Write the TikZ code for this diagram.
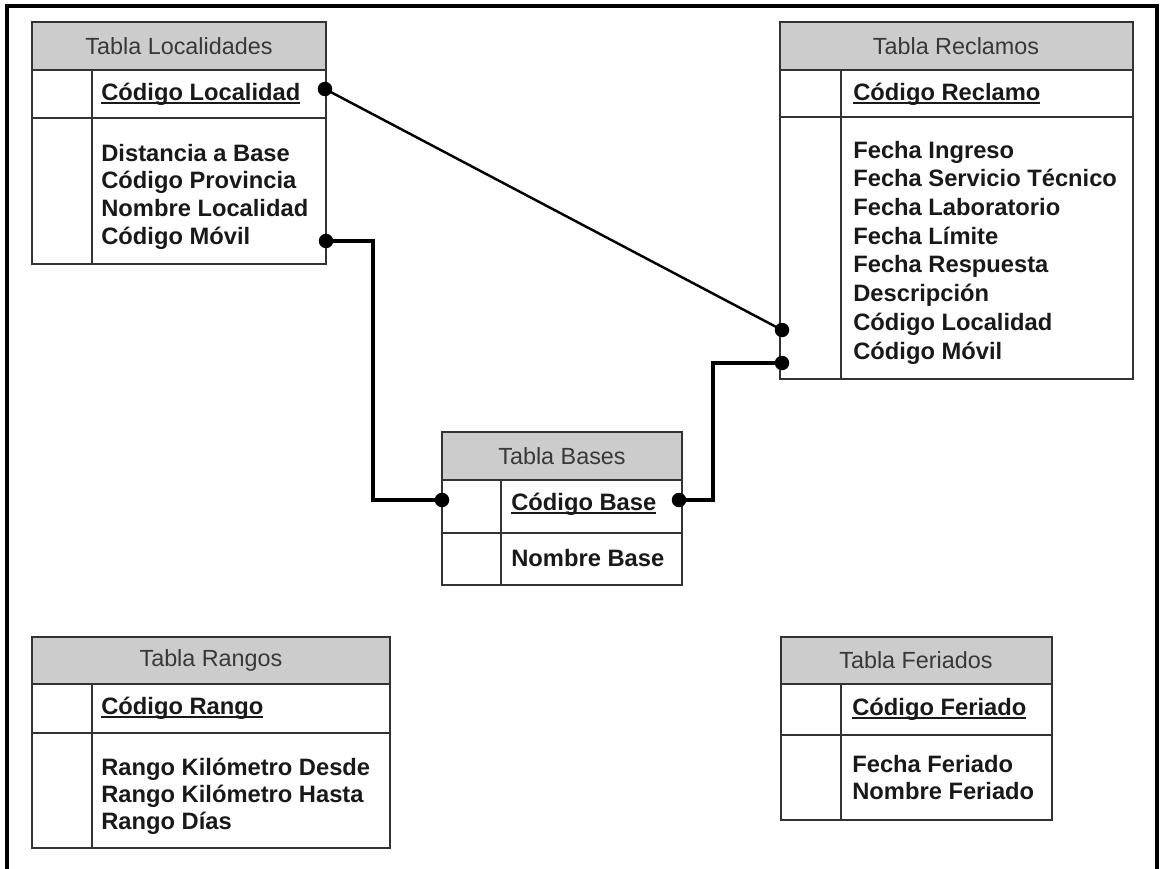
\documentclass[tikz,border=0pt]{standalone}
\usepackage{fontspec}
\setmainfont{Liberation Sans}
\usepackage{xcolor}
\definecolor{cabeza}{HTML}{CCCCCC}
\definecolor{linea}{HTML}{333333}
\definecolor{gristxt}{HTML}{383838}
\newcommand\subrayado[1]{\setbox0=\hbox{#1}\rlap{\rule[-2.3pt]{\wd0}{1pt}}\box0}

\begin{document}
\begin{tikzpicture}[x=0.02cm, y=-0.02cm,
  tabla/.style={draw=linea, line width=1.1pt},
  titulo/.style={font=\fontsize{13.3}{16}\selectfont, text=gristxt, inner sep=0pt},
  campo/.style={font=\fontsize{13.5}{16}\selectfont\bfseries, text=black!90, inner sep=0pt, anchor=west, text height=9.5pt, text depth=2.5pt},
  punto/.style={circle, fill=black, inner sep=0pt, minimum size=0.29cm},
  enlace/.style={line width=2pt},
  marco/.style={line width=1.8pt}]
\useasboundingbox (0,0) rectangle (1161,869);
\draw[marco] (7,869)--(7,6)--(1157,6)--(1157,869);

% Tabla Localidades
\draw[tabla, fill=cabeza] (32,22) rectangle (326,70);
\draw[tabla] (32,70) rectangle (326,264);
\draw[tabla] (32,118)--(326,118) (92,70)--(92,264);
\node[titulo] (tLoc) at (179,46) {Tabla Localidades};
\node[campo] (kLoc) at (101,94) {\subrayado{Código Localidad}};
\foreach \t [count=\i] in {Distancia a Base, Código Provincia, Nombre Localidad, Código Móvil}
  \node[campo] (fLoc\i) at (101,{155+27.7*(\i-1)}) {\t};

% Tabla Reclamos
\draw[tabla, fill=cabeza] (780,22) rectangle (1133,70);
\draw[tabla] (780,70) rectangle (1133,379);
\draw[tabla] (780,117)--(1133,117) (841,70)--(841,379);
\node[titulo] (tRec) at (956,46) {Tabla Reclamos};
\node[campo] (kRec) at (853,94) {\subrayado{Código Reclamo}};
\foreach \t [count=\i] in {Fecha Ingreso, Fecha Servicio Técnico, Fecha Laboratorio, Fecha Límite, Fecha Respuesta, Descripción, Código Localidad, Código Móvil}
  \node[campo] (fRec\i) at (853,{152+28.7*(\i-1)}) {\t};

% Tabla Bases
\draw[tabla, fill=cabeza] (442,432) rectangle (682,480);
\draw[tabla] (442,480) rectangle (682,585);
\draw[tabla] (442,533)--(682,533) (501,480)--(501,585);
\node[titulo] (tBas) at (562,456) {Tabla Bases};
\node[campo] (kBas) at (511,504) {\subrayado{Código Base}};
\node[campo] (fBas1) at (511,560) {Nombre Base};

% Tabla Rangos
\draw[tabla, fill=cabeza] (32,637) rectangle (390,684);
\draw[tabla] (32,684) rectangle (390,848);
\draw[tabla] (32,733)--(390,733) (92,684)--(92,848);
\node[titulo] (tRan) at (211,660) {Tabla Rangos};
\node[campo] (kRan) at (101,708) {\subrayado{Código Rango}};
\foreach \t [count=\i] in {Rango Kilómetro Desde, Rango Kilómetro Hasta, Rango Días}
  \node[campo] (fRan\i) at (101,{769+27*(\i-1)}) {\t};

% Tabla Feriados
\draw[tabla, fill=cabeza] (781,637) rectangle (1052,684);
\draw[tabla] (781,684) rectangle (1052,820);
\draw[tabla] (781,735)--(1052,735) (841,684)--(841,820);
\node[titulo] (tFer) at (916,660) {Tabla Feriados};
\node[campo] (kFer) at (852,709) {\subrayado{Código Feriado}};
\foreach \t [count=\i] in {Fecha Feriado, Nombre Feriado}
  \node[campo] (fFer\i) at (852,{766+27*(\i-1)}) {\t};

% relaciones
\node[punto] (pLocK) at (325,89) {};
\node[punto] (pLocM) at (326,241) {};
\node[punto] (pRecL) at (782,330) {};
\node[punto] (pRecM) at (782,363) {};
\node[punto] (pBasI) at (442,500) {};
\node[punto] (pBasD) at (679,500) {};
\draw[line width=1.4pt] (pLocK.center)--(pRecL.center);
\draw[enlace] (pLocM.center)--++(47,0)|-(pBasI.center);
\draw[enlace] (pBasD.center)--++(34,0)|-(pRecM.center);
\end{tikzpicture}
\end{document}
